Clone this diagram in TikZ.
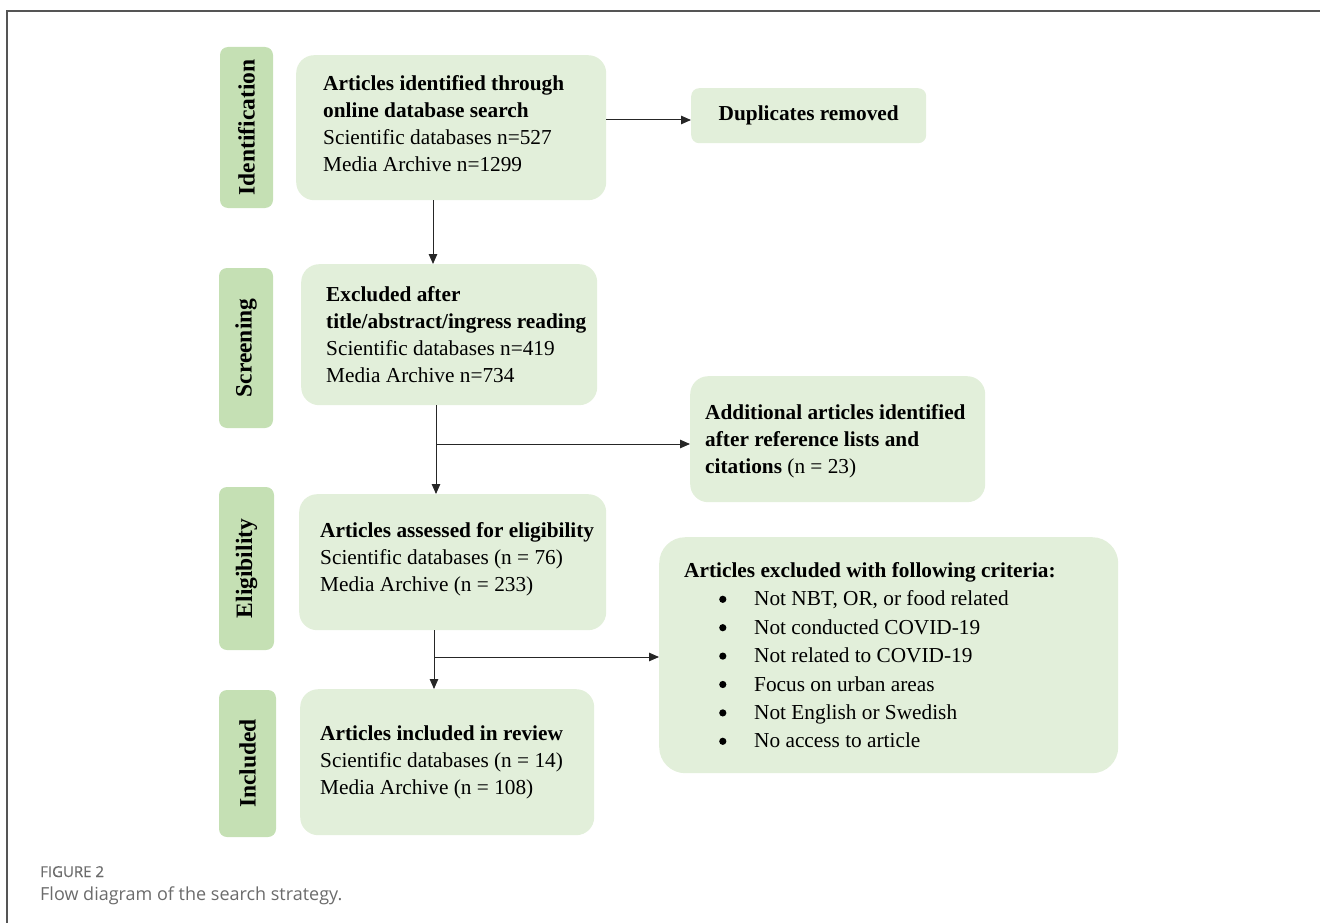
\documentclass[tikz,border=0pt]{standalone}
\usepackage{fontspec}
\setmainfont{Liberation Serif}
\newfontfamily\capfont{Open Sans}
\newfontfamily\capfontsb[FakeBold=0.6]{Open Sans}
\usetikzlibrary{arrows.meta}
\definecolor{boxgreen}{HTML}{E2EFDA}
\definecolor{sidegreen}{HTML}{C5E0B4}
\definecolor{framegray}{HTML}{555555}
\definecolor{capgray}{HTML}{6B6B6B}
\newcommand\critem[1]{\hspace*{35pt}\makebox[35pt][l]{\tikz[baseline=-6.5pt]\fill (0,0) circle (3.6pt);}#1}

\begin{document}
\begin{tikzpicture}[x=1pt,y=-1pt]
    \tikzstyle{stage}=[fill=boxgreen,rounded corners=18pt,inner sep=0pt,anchor=north west];
    \tikzstyle{phase}=[fill=sidegreen,rounded corners=8pt,rotate=90,inner sep=0pt,font=\fontsize{23.5}{28}\selectfont\bfseries];
    \tikzstyle{txt}=[anchor=west,align=left,inner sep=0pt,font=\fontsize{21.3}{27}\selectfont];
    \tikzstyle{flow}=[draw=black!85,line width=1pt,-{Triangle[length=10pt,width=8.5pt]}];
    \useasboundingbox (0,0) rectangle (1320,923);
    \draw[framegray,line width=1.2pt] (7,923) -- (7,11) -- (1320,11);

    % phases
    \node (lid) [phase,minimum width=161pt,minimum height=53pt] at (246.5,127.5) {Identification};
    \node (lsc) [phase,minimum width=160pt,minimum height=54pt] at (246,348) {Screening};
    \node (lel) [phase,minimum width=163pt,minimum height=55pt] at (246.5,568.5) {Eligibility};
    \node (lin) [phase,minimum width=147pt,minimum height=57pt] at (247.5,763.5) {Included};

    % main column
    \node (box1) [stage,minimum width=310pt,minimum height=145pt] at (296,55) {};
    \node (t1) [txt] at ([xshift=27pt,yshift=4pt]box1.west)
     {\textbf{Articles identified through}\\\textbf{online database search}\\Scientific databases n=527\\Media Archive n=1299};

    \node (box2) [stage,minimum width=296pt,minimum height=141pt] at (301,264) {};
    \node (t2) [txt] at ([xshift=25pt]box2.west)
     {\textbf{Excluded after}\\\textbf{title/abstract/ingress reading}\\Scientific databases n=419\\Media Archive n=734};

    \node (box3) [stage,minimum width=307pt,minimum height=136pt] at (299,494) {};
    \node (t3) [txt] at ([xshift=21pt,yshift=2.5pt]box3.west)
     {\textbf{Articles assessed for eligibility}\\Scientific databases (n = 76)\\Media Archive (n = 233)};

    \node (box4) [stage,minimum width=294pt,minimum height=146pt] at (300,689) {};
    \node (t4) [txt] at ([xshift=20pt]box4.west)
     {\textbf{Articles included in review}\\Scientific databases (n = 14)\\Media Archive (n = 108)};

    % side boxes
    \node (dup) [stage,rounded corners=8pt,minimum width=235pt,minimum height=55pt,font=\fontsize{21.3}{27}\selectfont\bfseries] at (691,88) {Duplicates removed};

    \node (add) [stage,minimum width=295pt,minimum height=126pt] at (690,376) {};
    \node (tadd) [txt] at ([xshift=15pt,yshift=-2pt]add.west)
     {\textbf{Additional articles identified}\\\textbf{after reference lists and}\\\textbf{citations} (n = 23)};

    \node (excl) [stage,rounded corners=26pt,minimum width=459pt,minimum height=236pt] at (659,537) {};
    \node (texcl) [txt,font=\fontsize{21.3}{28.4}\selectfont] at ([xshift=25pt]excl.west)
     {\textbf{Articles excluded with following criteria:}\\
      \critem{Not NBT, OR, or food related}\\
      \critem{Not conducted COVID-19}\\
      \critem{Not related to COVID-19}\\
      \critem{Focus on urban areas}\\
      \critem{Not English or Swedish}\\
      \critem{No access to article}};

    % connectors
    \coordinate (r1) at (0,120);
    \coordinate (c1) at (433,0);
    \coordinate (c2) at (436,444);
    \coordinate (c3) at (434,657);
    \path (box1.east |- r1) edge[flow] (dup.west |- r1)
          (box1.south -| c1) edge[flow] (box2.north -| c1)
          (box2.south -| c2) edge[flow] (box3.north -| c2)
          (c2) edge[flow] (add.west |- c2)
          (box3.south -| c3) edge[flow] (box4.north -| c3)
          (c3) edge[flow] (excl.west |- c3);

    % caption
    \node (fig) [anchor=base west,inner sep=0pt,text=capgray,font=\capfontsb\fontsize{15}{18}\selectfont] at (40,877) {FIGURE 2};
    \node (cap) [anchor=base west,inner sep=0pt,text=capgray,font=\capfont\fontsize{18}{22}\selectfont] at (40,900) {Flow diagram of the search strategy.};
\end{tikzpicture}
\end{document}
